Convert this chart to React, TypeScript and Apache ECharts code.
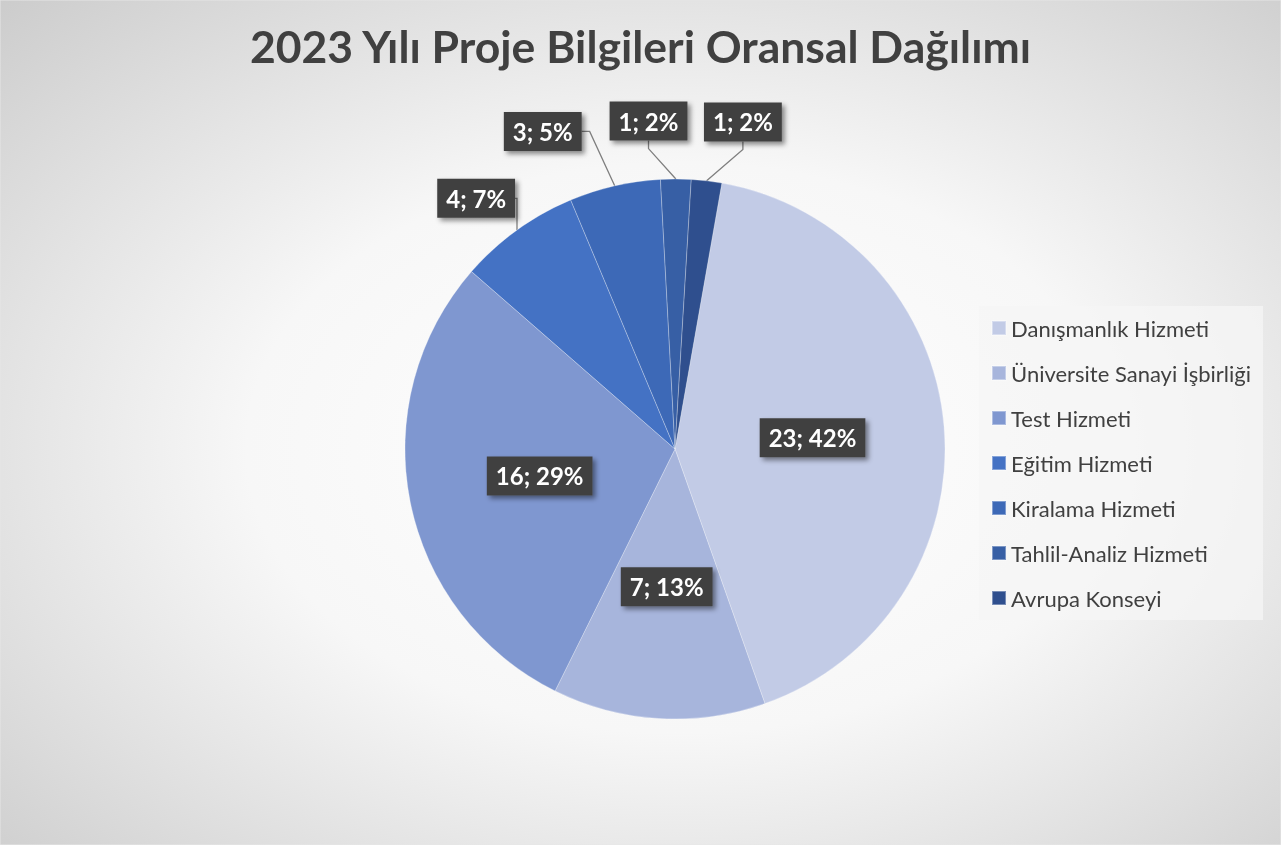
import React, { useEffect, useRef } from "react";
import * as echarts from "echarts";

const titleText = "2023 Yılı Proje Bilgileri Oransal Dağılımı";
const categories = [
  "Danışmanlık Hizmeti",
  "Üniversite Sanayi İşbirliği",
  "Test Hizmeti",
  "Eğitim Hizmeti",
  "Kiralama Hizmeti",
  "Tahlil-Analiz Hizmeti",
  "Avrupa Konseyi",
];
const values = [23, 7, 16, 4, 3, 1, 1];
const colors = ["#c2cbe6", "#a7b5dc", "#7f97d0", "#4472c4", "#3d69b7", "#375fa5", "#2f4f8e"];
const insideLabel = [true, true, true, false, false, false, false];

// layout of outside labels: angular shift (deg) from slice middle, and distance from centre (px)
const outsideShift = [0, 0, 0, -2.6, -9.7, -4.8, 5];
const outsideDist = [0, 0, 0, 320, 344, 329, 334];

const CX = 675;
const CY = 449;
const R = 270;
const START_FROM_TOP = 10; // degrees clockwise from 12 o'clock

export default function App() {
  const ref = useRef<HTMLDivElement>(null);
  useEffect(() => {
    document.body.style.margin = "0";
    const chart = echarts.init(ref.current!, null, { renderer: "svg" });
    const total = values.reduce((a, b) => a + b, 0);
    const midAngles: number[] = [];
    let acc = START_FROM_TOP;
    values.forEach((v) => {
      const span = (v / total) * 360;
      midAngles.push(acc + span / 2);
      acc += span;
    });
    const labelBase = {
      formatter: "{c}; {d}%",
      color: "#ffffff",
      fontFamily: "Lato",
      fontWeight: "bold",
      fontSize: 24,
      backgroundColor: "#404040",
      padding: [8, 9, 7, 9],
      shadowColor: "rgba(0,0,0,0.45)",
      shadowBlur: 5,
      shadowOffsetX: 3,
      shadowOffsetY: 3,
    };
    chart.setOption({
      animation: false,
      color: colors,
      graphic: [
        {
          type: "rect",
          z: -10,
          silent: true,
          shape: { x: 0, y: 0, width: 1281, height: 845 },
          style: {
            fill: {
              type: "radial",
              x: 0.53,
              y: 0.53,
              r: 0.75,
              colorStops: [
                { offset: 0, color: "#ffffff" },
                { offset: 0.45, color: "#f7f7f7" },
                { offset: 1, color: "#cccccc" },
              ],
            },
            stroke: "#e6e6e6",
            lineWidth: 1,
          },
        },
      ],
      title: {
        text: titleText,
        left: "center",
        top: 18,
        textStyle: {
          fontFamily: "Lato",
          fontWeight: "bold",
          fontSize: 44.5,
          color: "#404040",
        },
      },
      legend: {
        orient: "vertical",
        right: 18,
        top: 306,
        data: categories,
        icon: "rect",
        itemWidth: 14,
        itemHeight: 14,
        itemGap: 23,
        padding: [11, 12, 11, 12],
        backgroundColor: "rgba(245,245,245,0.75)",
        textStyle: { fontFamily: "Lato", fontSize: 22, lineHeight: 22, color: "#404040" },
      },
      series: [
        {
          type: "pie",
          center: [CX, CY],
          radius: R,
          startAngle: 90 - START_FROM_TOP,
          clockwise: true,
          percentPrecision: 0,
          itemStyle: { borderColor: "rgba(255,255,255,0.35)", borderWidth: 0.8 },
          label: { ...labelBase },
          labelLine: {
            length: 28,
            length2: 8,
            lineStyle: { color: "#7f7f7f", width: 1.3 },
          },
          labelLayout: (params: any) => {
            const i = params.dataIndex;
            if (insideLabel[i]) return {};
            const a = ((midAngles[i] + outsideShift[i]) * Math.PI) / 180;
            return {
              x: CX + outsideDist[i] * Math.sin(a),
              y: CY - outsideDist[i] * Math.cos(a),
              align: "center",
              verticalAlign: "middle",
            };
          },
          data: categories.map((name, i) => ({
            name,
            value: values[i],
            label: insideLabel[i] ? { ...labelBase, position: "inside" } : { ...labelBase, position: "outside" },
            labelLine: { show: !insideLabel[i] },
          })),
        },
      ],
    });
    return () => chart.dispose();
  }, []);
  return <div ref={ref} style={{ position: "fixed", left: 0, top: 0, width: 1281, height: 845 }} />;
}
